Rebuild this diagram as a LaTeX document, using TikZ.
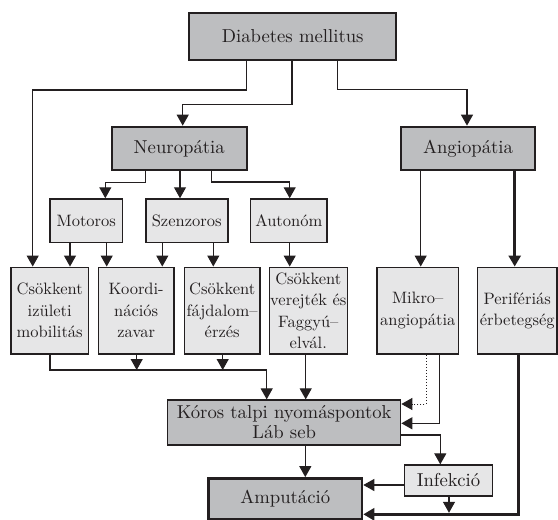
\documentclass[tikz,border=0pt]{standalone}
\usepackage{fontspec}
\setmainfont{lmroman10-regular}[Extension=.otf]
\usetikzlibrary{arrows.meta}
\definecolor{ink}{HTML}{231F20}
\definecolor{darkfill}{HTML}{BDBEC0}
\definecolor{lightfill}{HTML}{E6E6E7}
\begin{document}
\begin{tikzpicture}[x=1pt,y=-1pt,
  box/.style={draw=ink, text=ink, inner sep=0pt, align=center, anchor=center},
  bigfont/.style={font=\fontsize{18.7}{20}\selectfont},
  smallfont/.style={font=\fontsize{16.5}{21.5}\selectfont},
  bigbox/.style={box, fill=darkfill, line width=2pt, bigfont},
  smallbox/.style={box, fill=lightfill, line width=1.6pt, smallfont},
  conn/.style={draw=ink, line width=1.2pt, -{Triangle[width=12pt,length=11pt]}},
  heavy/.style={line width=2.8pt},
]
\useasboundingbox (0,0) rectangle (558,520);

% top level
\node[bigbox, minimum width=207.3pt, minimum height=47.3pt] (dm) at (292.7,36.3) {Diabetes mellitus};
\node[bigbox, minimum width=135pt, minimum height=43.3pt] (neuro) at (179.2,148.3) {Neuropátia};
\node[bigbox, minimum width=134.6pt, minimum height=43.3pt] (angio) at (468,148.3) {Angiopátia};

% second row
\node[smallbox, minimum width=72.7pt, minimum height=43.3pt] (motor) at (86.3,220.7) {Motoros};
\node[smallbox, minimum width=82pt, minimum height=43.3pt] (szenz) at (186.7,220.7) {Szenzoros};
\node[smallbox, minimum width=76.3pt, minimum height=43.3pt] (auto) at (288.8,220.7) {Autonóm};

% third row
\node[smallbox, minimum width=77.3pt, minimum height=86.7pt] (csi) at (49.7,310.7) {Csökkent\\izületi\\mobilitás};
\node[smallbox, minimum width=75.7pt, minimum height=86.7pt] (koord) at (136.2,310.7) {Koordi-\\nációs\\zavar};
\node[smallbox, minimum width=75.7pt, minimum height=86.7pt] (fajd) at (222.2,310.7) {Csökkent\\fájdalom–\\érzés};
\node[smallbox, minimum width=78pt, minimum height=86.7pt] (verej) at (308.3,310.7) {Csökkent\\verejték és\\Faggyú–\\elvál.};
\node[smallbox, minimum width=81.7pt, minimum height=86.7pt] (mikro) at (417.8,310.7) {Mikro–\\angiopátia};
\node[smallbox, minimum width=79.7pt, minimum height=86.7pt] (perif) at (517.2,310.7) {Perifériás\\érbetegség};

% bottom
\node[bigbox, line width=1.3pt, minimum width=233pt, minimum height=45pt] (koros) at (284.2,422.5) {Kóros talpi nyomáspontok\\Láb seb};
\node[smallbox, bigfont, line width=1.3pt, minimum width=87.6pt, minimum height=31pt] (infek) at (448.5,480.5) {Infekció};
\node[bigbox, line width=2.5pt, minimum width=153.7pt, minimum height=40.7pt] (amput) at (285.2,498.7) {Amputáció};

% connectors from Diabetes mellitus
\draw[conn] (246.7,0 |- dm.south) -- (246.7,90) -| (32.7,0 |- csi.north);
\draw[conn] (292,0 |- dm.south) -- (292,104.5) -| (182.7,0 |- neuro.north);
\draw[conn] (337.3,0 |- dm.south) -- (337.3,89.3) -| (467,0 |- angio.north);

% from Neuropátia
\draw[conn] (145.3,0 |- neuro.south) -- (145.3,182.7) -| (105.3,0 |- motor.north);
\draw[conn] (180,0 |- neuro.south) -- (180,0 |- szenz.north);
\draw[conn] (211.7,0 |- neuro.south) -- (211.7,182) -| (289.7,0 |- auto.north);

% second row to third row
\draw[conn] (70,0 |- motor.south) -- (70,0 |- csi.north);
\draw[conn] (106.7,0 |- motor.south) -- (106.7,0 |- koord.north);
\draw[conn] (162.3,0 |- szenz.south) -- (162.3,0 |- koord.north);
\draw[conn] (213.3,0 |- szenz.south) -- (213.3,0 |- fajd.north);
\draw[conn] (289.7,0 |- auto.south) -- (289.7,0 |- verej.north);

% from Angiopátia
\draw[conn] (420.7,0 |- angio.south) -- (420.7,0 |- mikro.north);
\draw[conn, heavy] (514.7,0 |- angio.south) -- (514.7,0 |- perif.north);

% to Kóros talpi nyomáspontok
\coordinate (busa) at (136.7,370);
\coordinate (busb) at (222.7,370);
\draw[conn] (50,0 |- csi.south) -- (50,370) -| (266.7,0 |- koros.north);
\draw[conn] (136.7,0 |- koord.south) -- (busa);
\draw[conn] (222.7,0 |- fajd.south) -- (busb);
\draw[conn] (305.7,0 |- verej.south) -- (305.7,0 |- koros.north);
\draw[conn, line width=1pt, dotted] (426.3,0 |- mikro.south) |- (koros.east |- 0,404);
\draw[conn] (439.7,0 |- mikro.south) |- (koros.east |- 0,423.3);

% lower part
\draw[conn] (koros.east |- 0,435) -| (440.3,0 |- infek.north);
\draw[conn] (305.3,0 |- koros.south) -- (305.3,0 |- amput.north);
\draw[conn] (infek.west |- 0,485) -- (amput.east |- 0,485);
\coordinate (tl) at (449,512.8);
\draw[conn] (449,0 |- infek.south) -- (tl);
\draw[conn, heavy] (518.7,0 |- perif.south) |- (amput.east |- 0,514.3);
\end{tikzpicture}
\end{document}
